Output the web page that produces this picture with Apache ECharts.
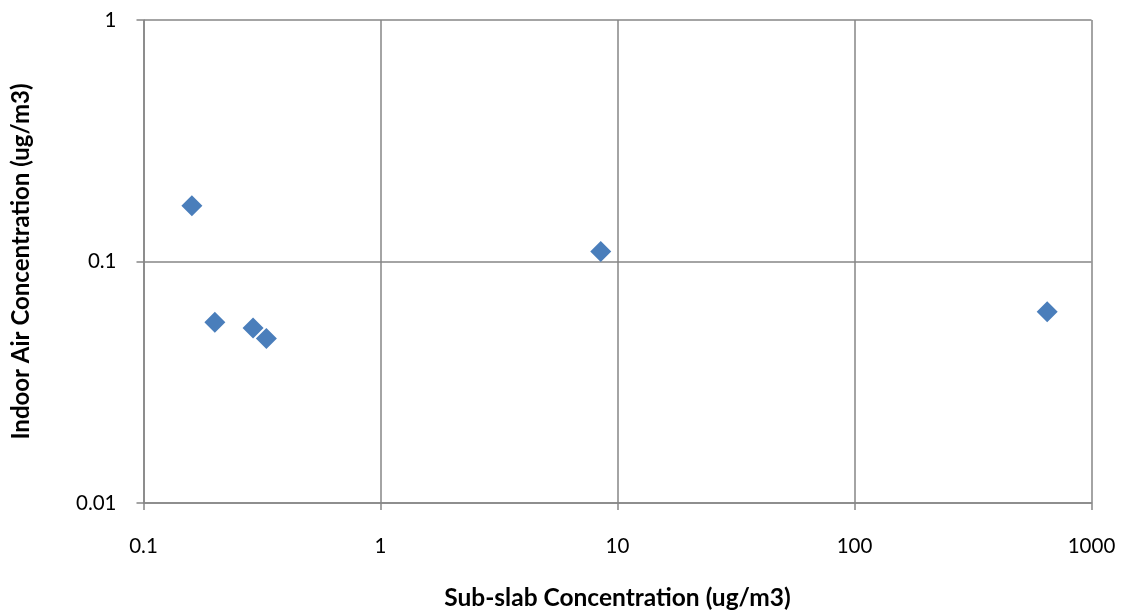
<!DOCTYPE html>
<html lang="en">
<head>
    <meta charset="UTF-8">
    <script src="https://cdn.jsdelivr.net/npm/echarts@6/dist/echarts.min.js"></script>
    <title>Sub-slab vs Indoor Air</title>
    <style>
        html, body { margin: 0; padding: 0; background: #fff; }
    </style>
</head>
<body>
<div id="main" style="width: 1127px;height:616px;"></div>

<script type="text/javascript">

    // sub-slab (x) and indoor air (y) concentrations, ug/m3
    var subSlab = [0.16, 0.2, 0.29, 0.33, 8.5, 650];
    var indoorAir = [0.17, 0.056, 0.053, 0.048, 0.11, 0.062];

    var xTicks = [0.1, 1, 10, 100, 1000];
    var yTicks = [0.01, 0.1, 1];

    var points = [];
    for (var i = 0; i < subSlab.length; i++) {
        points.push([subSlab[i], indoorAir[i]]);
    }

    var gridColor = '#868686';
    var font = 'Lato, "Open Sans", sans-serif';

    var myChart = echarts.init(document.getElementById('main'));

    var option = {
        backgroundColor: '#ffffff',
        animation: false,
        grid: {
            left: 143.5,
            right: 35.5,
            top: 20,
            bottom: 112.5,
            containLabel: false
        },
        xAxis: {
            type: 'log',
            logBase: 10,
            min: xTicks[0],
            max: xTicks[xTicks.length - 1],
            name: 'Sub-slab Concentration (ug/m3)',
            nameLocation: 'middle',
            nameGap: 83,
            nameTextStyle: { fontFamily: font, fontWeight: 'bold', fontSize: 24.5, color: '#000' },
            axisLine: { show: true, lineStyle: { color: gridColor, width: 1.5 } },
            axisTick: { show: true, inside: false, length: 7, lineStyle: { color: gridColor, width: 1.5 } },
            minorTick: { show: false },
            axisLabel: {
                margin: 33,
                fontFamily: font, fontSize: 20.5, color: '#000',
                formatter: function (v) { return String(v); }
            },
            splitLine: { show: true, lineStyle: { color: gridColor, width: 1.5 } }
        },
        yAxis: {
            type: 'log',
            logBase: 10,
            min: yTicks[0],
            max: yTicks[yTicks.length - 1],
            name: 'Indoor Air Concentration (ug/m3)',
            nameLocation: 'middle',
            nameGap: 110,
            nameRotate: 90,
            nameTextStyle: { fontFamily: font, fontWeight: 'bold', fontSize: 24, color: '#000' },
            axisLine: { show: true, lineStyle: { color: gridColor, width: 1.5 } },
            axisTick: { show: true, inside: false, length: 7, lineStyle: { color: gridColor, width: 1.5 } },
            minorTick: { show: false },
            axisLabel: {
                margin: 27,
                fontFamily: font, fontSize: 20.5, color: '#000',
                formatter: function (v) { return String(v); }
            },
            splitLine: { show: true, lineStyle: { color: gridColor, width: 1.5 } }
        },
        series: [
            {
                type: 'scatter',
                data: points,
                symbol: 'diamond',
                symbolSize: [21, 21],
                itemStyle: { color: '#4a7ebb', opacity: 1 }
            }
        ]
    };

    myChart.setOption(option);
</script>
</body>
</html>
